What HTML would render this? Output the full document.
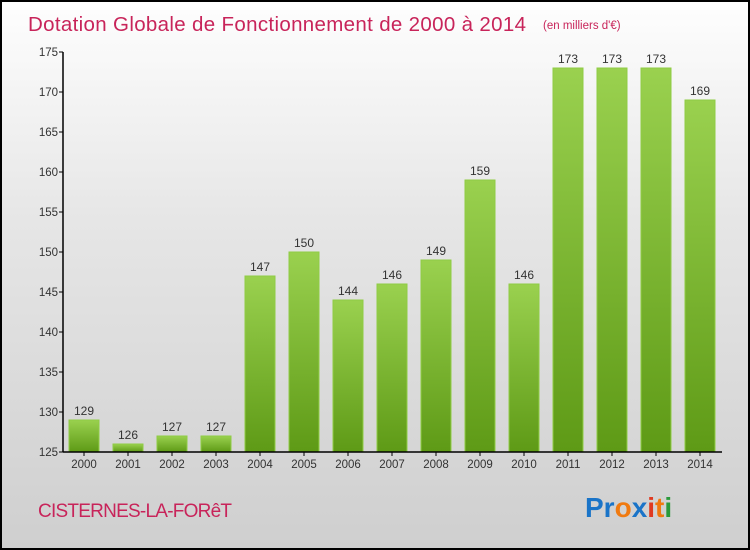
<!DOCTYPE html>
<html><head><meta charset="utf-8"><style>
body{margin:0}
#c{width:750px;height:550px;position:relative;box-sizing:border-box;border:2px solid #000;background:linear-gradient(#fefefe,#e6e6e6 40%,#cfcfcf);font-family:"Liberation Sans",sans-serif;overflow:hidden}
svg{position:absolute;left:0;top:0}
</style></head><body>
<div id="c">
<svg width="750" height="550" id="s">
<defs><linearGradient id="g" x1="0" y1="0" x2="0" y2="1"><stop offset="0" stop-color="#9ad14f"/><stop offset="1" stop-color="#5e9a16"/></linearGradient></defs>
<text x="26" y="29" font-size="20.5" fill="#c8245a" textLength="498">Dotation Globale de Fonctionnement de 2000 à 2014</text>
<text x="541" y="27" font-size="11.5" fill="#c8245a">(en milliers d'€)</text>
<text x="36" y="515" font-size="19" fill="#c8245a" textLength="194">CISTERNES-LA-FORêT</text>
<text x="583" y="515" font-size="28" font-weight="bold"><tspan fill="#1a74c8">Pr</tspan><tspan fill="#f07a10">o</tspan><tspan fill="#1a74c8">x</tspan><tspan fill="#e03a20">i</tspan><tspan fill="#f07a10">t</tspan><tspan fill="#2a9a3a">i</tspan></text>
<g id="plot"></g>
</svg></div>
<script>
const years=["2000","2001","2002","2003","2004","2005","2006","2007","2008","2009","2010","2011","2012","2013","2014"];
const values=[129,126,127,127,147,150,144,146,149,159,146,173,173,173,169];
const ticks=[125,130,135,140,145,150,155,160,165,170,175];
const y=v=>450-(v-125)*8;
const x=i=>82+i*44;
const NS="http://www.w3.org/2000/svg";
const p=document.getElementById('plot');
function mk(t,a){const e=document.createElementNS(NS,t);for(const k in a)e.setAttribute(k,a[k]);p.appendChild(e);return e;}
values.forEach((v,i)=>{
 const r=mk('rect',{x:x(i)-15,y:y(v),width:30,height:450-y(v),fill:'url(#g)',stroke:'#8fcc44','stroke-width':1});
 
 
 const t=mk('text',{x:x(i),y:y(v)-5,'text-anchor':'middle','font-size':12,fill:'#333'});t.textContent=v;
 
 
 const l=mk('text',{x:x(i),y:466,'text-anchor':'middle','font-size':11.5,fill:'#333'});l.textContent=years[i];
 
 
 const tk=mk('line',{x1:x(i),x2:x(i),y1:450,y2:454,stroke:'#000'});
 
 
});
ticks.forEach(v=>{
 const l=mk('line',{x1:57,x2:61,y1:y(v),y2:y(v),stroke:'#000'});
 
 
 const t=mk('text',{x:56,y:y(v)+4,'text-anchor':'end','font-size':11.5,fill:'#333'});t.textContent=v;
 
 
});
const ya=mk('line',{x1:61,x2:61,y1:y(175),y2:450.5,stroke:'#000','stroke-width':1.5});


const xa=mk('line',{x1:61,x2:720,y1:450,y2:450,stroke:'#000','stroke-width':1.5});


</script>
</body></html>
